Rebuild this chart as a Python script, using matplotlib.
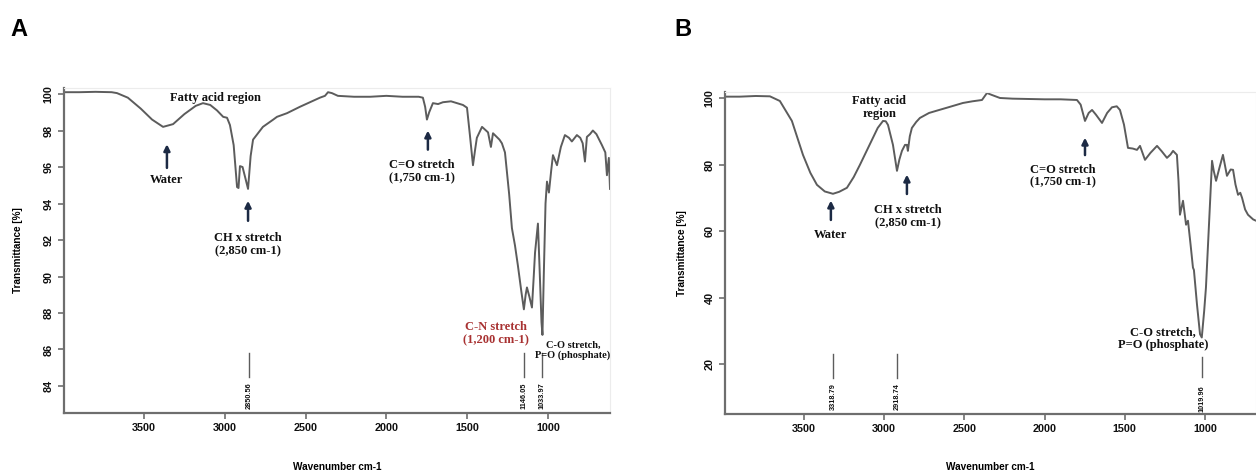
import numpy as np
import matplotlib
matplotlib.use('Agg')
import matplotlib.pyplot as plt

# ---- spectrum A ----
wn_a = [3995, 3900, 3800, 3700, 3667, 3600, 3520, 3450, 3382, 3320, 3250, 3180,
        3135, 3090, 3048, 3010, 2986, 2968, 2945, 2924, 2915, 2906, 2890, 2870,
        2856, 2840, 2825, 2764, 2700, 2677, 2615, 2535, 2473, 2411, 2380, 2361,
        2337, 2300, 2200, 2100, 2000, 1900, 1800, 1774, 1760, 1749, 1735, 1712,
        1680, 1650, 1600, 1563, 1526, 1501, 1483, 1464, 1450, 1440, 1408, 1371,
        1353, 1340, 1300, 1285, 1266, 1240, 1223, 1204, 1186, 1165, 1149, 1138,
        1130, 1115, 1099, 1088, 1080, 1062, 1052, 1040, 1034, 1026, 1015, 1006,
        994, 980, 969, 944, 920, 895, 870, 852, 821, 800, 785, 771, 759, 740,
        722, 700, 666, 645, 635, 623, 616]
tr_a = [100.1, 100.1, 100.12, 100.1, 100.05, 99.8, 99.2, 98.6, 98.2, 98.35, 98.9, 99.35,
        99.5, 99.4, 99.1, 98.75, 98.7, 98.3, 97.2, 94.9, 94.85, 96.05, 96.0, 95.3,
        94.8, 96.6, 97.5, 98.2, 98.6, 98.75, 98.95, 99.3, 99.55, 99.8, 99.9, 100.1,
        100.05, 99.9, 99.85, 99.85, 99.9, 99.85, 99.85, 99.8, 99.3, 98.6, 99.0, 99.5,
        99.45, 99.55, 99.6, 99.5, 99.4, 99.25, 97.75, 96.1, 97.0, 97.6, 98.2, 97.9,
        97.1, 97.85, 97.5, 97.3, 96.8, 94.5, 92.65, 91.7, 90.6, 89.2, 88.2, 89.0,
        89.4, 88.9, 88.3, 90.0, 91.3, 92.9, 90.5, 87.5, 86.8, 90.0, 94.0, 95.2,
        94.6, 95.8, 96.65, 96.1, 97.1, 97.75, 97.6, 97.4, 97.75, 97.6, 97.3, 96.3, 97.65, 97.8,
        98.0, 97.8, 97.2, 96.8, 95.55, 96.5, 94.8]

# ---- spectrum B ----
wn_b = [3992, 3900, 3800, 3712, 3650, 3575, 3506, 3460, 3419, 3370, 3319, 3280,
        3232, 3190, 3151, 3110, 3070, 3040, 3007, 2990, 2976, 2945, 2920, 2905,
        2889, 2870, 2858, 2852, 2840, 2827, 2800, 2777, 2720, 2671, 2600, 2509,
        2450, 2390, 2359, 2328, 2278, 2200, 2100, 2000, 1900, 1798, 1775, 1748,
        1725, 1704, 1680, 1642, 1610, 1580, 1550, 1530, 1505, 1480, 1450, 1424,
        1405, 1374, 1340, 1299, 1270, 1237, 1215, 1199, 1175, 1165, 1156, 1137,
        1118, 1106, 1090, 1075, 1069, 1050, 1031, 1020, 1005, 994, 975, 956,
        945, 931, 910, 888, 863, 840, 825, 810, 794, 780, 769, 750, 732, 700, 682]
tr_b = [100.4, 100.4, 100.6, 100.5, 99.1, 93.1, 82.9, 77.5, 73.9, 71.9, 71.2, 71.8,
        73.0, 76.2, 79.9, 84.0, 88.0, 91.0, 93.1, 93.0, 91.9, 85.9, 78.1, 81.5,
        84.1, 85.9, 85.9, 84.1, 88.5, 91.0, 92.8, 94.0, 95.5, 96.2, 97.2, 98.5,
        99.0, 99.4, 101.5, 100.9, 100.0, 99.8, 99.7, 99.6, 99.6, 99.4, 98.0, 93.1,
        95.5, 96.4, 95.0, 92.5, 95.5, 97.2, 97.5, 96.4, 92.0, 85.0, 84.8, 84.4,
        85.6, 81.4, 83.5, 85.6, 84.0, 82.0, 83.0, 84.1, 82.9, 75.0, 64.9, 69.1,
        61.9, 63.1, 56.0, 49.0, 48.3, 38.0, 29.0, 28.0, 36.0, 43.0, 62.0, 81.1,
        78.0, 75.1, 79.0, 82.9, 76.6, 78.5, 78.4, 74.0, 70.9, 71.5, 70.0, 66.5, 64.9, 63.5, 63.1]

# peak pick labels
peaks_a = [2850.56, 1146.05, 1033.97]
peaks_b = [3318.79, 2918.74, 1019.96]

xticks = [3500, 3000, 2500, 2000, 1500, 1000]
yticks_a = [84, 86, 88, 90, 92, 94, 96, 98, 100]
yticks_b = [20, 40, 60, 80, 100]

LINE = '#5c5c5c'
SPINE = '#6e6e6e'
ARROW = '#1c2a44'
SERIF = 'Liberation Serif'
SANS = 'Liberation Sans'

fig = plt.figure(figsize=(12.56, 4.72), dpi=100)
ax_a = fig.add_axes([64/1256, 1-413/472, (610-64)/1256, (413-88)/472])
ax_b = fig.add_axes([725/1256, 1-414/472, (1256-725)/1256, (414-92)/472])


def style_axes(ax, yticks, ylab_x, xlab_y):
    ax.spines['right'].set_color('#ececec')
    ax.spines['top'].set_color('#ececec')
    ax.spines['right'].set_linewidth(0.8)
    ax.spines['top'].set_linewidth(0.8)
    for s in ['left', 'bottom']:
        ax.spines[s].set_color(SPINE)
        ax.spines[s].set_linewidth(1.6)
    ax.set_xticks(xticks)
    ax.set_yticks(yticks)
    ax.tick_params(axis='both', colors=SPINE, width=1.2, length=4, labelcolor='#111111')
    for lab in ax.get_xticklabels():
        lab.set_fontfamily(SANS)
        lab.set_fontweight('bold')
        lab.set_fontsize(7.8)
    for lab in ax.get_yticklabels():
        lab.set_fontfamily(SANS)
        lab.set_fontweight('bold')
        lab.set_fontsize(7.8)
        lab.set_rotation(90)
        lab.set_va('center')
    ax.set_ylabel('Transmittance [%]', family=SANS, fontweight='bold', fontsize=7.2)
    ax.yaxis.set_label_coords(ylab_x, 0.5)
    ax.yaxis.label.set_va('center')
    ax.set_xlabel('Wavenumber cm-1', family=SANS, fontweight='bold', fontsize=7.2)
    ax.xaxis.set_label_coords(0.5, xlab_y)
    ax.xaxis.label.set_va('center')


def arrow(ax, x, y_tip, y_tail):
    ax.annotate('', xy=(x, y_tip), xytext=(x, y_tail),
                arrowprops=dict(arrowstyle='-|>', color=ARROW, lw=1.8, mutation_scale=9))


def label(ax, x, y, s, size=9, color='#111111'):
    ax.text(x, y, s, ha='center', va='center', family=SERIF, fontweight='bold',
            fontsize=size, color=color, linespacing=1.1)


def peak_mark(ax, x, y0, y1, ytxt):
    ax.plot([x, x], [y0, y1], color=LINE, lw=1.0)
    ax.text(x, ytxt, '%.2f' % x, rotation=90, ha='center', va='center',
            family=SANS, fontweight='bold', fontsize=5.3, color='#111111')


# ---------- panel A ----------
ax_a.plot(wn_a, tr_a, color=LINE, lw=1.4)
ax_a.set_xlim(3995, 616)
ax_a.set_ylim(82.52, 100.33)
style_axes(ax_a, yticks_a, -(64-18)/546, -(467-413)/325)

label(ax_a, 3060, 99.8, 'Fatty acid region')
arrow(ax_a, 3358, 97.4, 95.8)
label(ax_a, 3358, 95.29, 'Water')
arrow(ax_a, 2856, 94.3, 92.9)
label(ax_a, 2856, 91.73, 'CH x stretch\n(2,850 cm-1)')
arrow(ax_a, 1743, 98.15, 96.8)
label(ax_a, 1780, 95.73, 'C=O stretch\n(1,750 cm-1)')
label(ax_a, 1322, 86.88, 'C-N stretch\n(1,200 cm-1)', color='#a83232')
label(ax_a, 845, 85.94, 'C-O stretch,\nP=O (phosphate)', size=7.5)
for p in peaks_a:
    peak_mark(ax_a, p, 85.8, 84.5, 83.45)

# ---------- panel B ----------
ax_b.plot(wn_b, tr_b, color=LINE, lw=1.4)
ax_b.set_xlim(3992, 682)
ax_b.set_ylim(5.0, 101.8)
style_axes(ax_b, yticks_b, -(725-682)/531, -(467-414)/322)

label(ax_b, 3030, 97.15, 'Fatty acid\nregion')
arrow(ax_b, 3332, 70.0, 62.5)
label(ax_b, 3332, 58.9, 'Water')
arrow(ax_b, 2858, 77.8, 70.3)
label(ax_b, 2852, 64.3, 'CH x stretch\n(2,850 cm-1)')
arrow(ax_b, 1748, 88.9, 82.0)
label(ax_b, 1885, 76.5, 'C=O stretch\n(1,750 cm-1)')
label(ax_b, 1262, 27.6, 'C-O stretch,\nP=O (phosphate)')
peak_mark(ax_b, peaks_b[0], 23.1, 15.9, 10.2)
peak_mark(ax_b, peaks_b[1], 23.1, 15.9, 10.2)
peak_mark(ax_b, peaks_b[2], 22.0, 16.0, 9.5)

# panel letters
fig.text(10/1256, 1-30/472, 'A', family=SANS, fontweight='bold', fontsize=17, va='center')
fig.text(674/1256, 1-30/472, 'B', family=SANS, fontweight='bold', fontsize=17, va='center')

fig.savefig('out.png', dpi=100)
